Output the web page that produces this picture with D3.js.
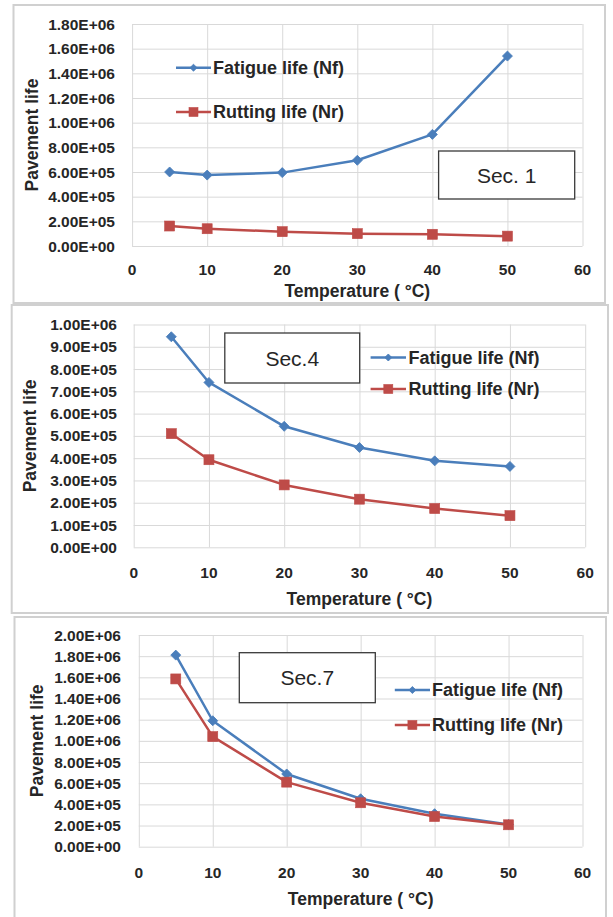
<!DOCTYPE html>
<html>
<head>
<meta charset="utf-8">
<script src="https://cdn.jsdelivr.net/npm/d3@7"></script>
<style>
  html, body { margin: 0; padding: 0; background: #ffffff; }
  svg { display: block; }
  text { font-family: "Liberation Sans", Arial, sans-serif; fill: #262626; }
</style>
</head>
<body>
<svg id="chart" width="613" height="917"></svg>
<script>
// ---------- data ----------
const temps = [5, 10, 20, 30, 40, 50];
const xTickValues = [0, 10, 20, 30, 40, 50, 60];
const seriesNames = ["Fatigue life (Nf)", "Rutting life (Nr)"];

const sec1Fatigue = [6.0e5, 5.75e5, 5.95e5, 6.95e5, 9.05e5, 1.54e6];
const sec1Rutting = [1.62e5, 1.40e5, 1.16e5, 1.0e5, 9.5e4, 8.0e4];
const sec1YTicks = [0, 2e5, 4e5, 6e5, 8e5, 1.0e6, 1.2e6, 1.4e6, 1.6e6, 1.8e6];

const sec4Fatigue = [9.45e5, 7.4e5, 5.43e5, 4.48e5, 3.88e5, 3.63e5];
const sec4Rutting = [5.1e5, 3.93e5, 2.8e5, 2.16e5, 1.74e5, 1.42e5];
const sec4YTicks = [0, 1e5, 2e5, 3e5, 4e5, 5e5, 6e5, 7e5, 8e5, 9e5, 1.0e6];

const sec7Fatigue = [1.81e6, 1.19e6, 6.87e5, 4.53e5, 3.12e5, 2.1e5];
const sec7Rutting = [1.585e6, 1.04e6, 6.1e5, 4.15e5, 2.85e5, 2.07e5];
const sec7YTicks = [0, 2e5, 4e5, 6e5, 8e5, 1.0e6, 1.2e6, 1.4e6, 1.6e6, 1.8e6, 2.0e6];

const sectionLabels = ["Sec. 1", "Sec.4", "Sec.7"];
const xTitle = "Temperature ( \u00B0C)";
const yTitle = "Pavement life";

// ---------- layout (positions only) ----------
const panels = [
  { fatigue: sec1Fatigue, rutting: sec1Rutting, yTicks: sec1YTicks, label: sectionLabels[0],
    border: [13.5, 5, 605, 303], plotX: [132.1, 582.5], plotY: [246, 24],
    yLabelRight: 115, xLabelY: 269.5, xTitleY: 290.5, yTitleX: 31.5,
    legendX: [176, 211], legendY: [67.7, 112], legendTextX: 213,
    box: [438.6, 151, 574.7, 199] },
  { fatigue: sec4Fatigue, rutting: sec4Rutting, yTicks: sec4YTicks, label: sectionLabels[1],
    border: [11.7, 305, 608, 613], plotX: [133.7, 585.2], plotY: [547.3, 324.5],
    yLabelRight: 117, xLabelY: 572, xTitleY: 598.5, yTitleX: 29.5,
    legendX: [370.6, 406], legendY: [357.5, 389], legendTextX: 408.5,
    box: [224.8, 333, 359.7, 383] },
  { fatigue: sec7Fatigue, rutting: sec7Rutting, yTicks: sec7YTicks, label: sectionLabels[2],
    border: [14.5, 617, 606, 930], plotX: [138.8, 582.5], plotY: [846.7, 635],
    yLabelRight: 121, xLabelY: 872, xTitleY: 898.5, yTitleX: 37,
    legendX: [394.8, 430], legendY: [690, 725], legendTextX: 432,
    box: [239.3, 652.7, 375.3, 702.7] }
];

const blue = "#4A7EBB";
const red = "#BE4B48";
const gridColor = "#d9d9d9";

function sci(v) {
  const [m, e] = v.toExponential(2).split("e");
  return m + "E" + e[0] + e.slice(1).padStart(2, "0");
}

const svg = d3.select("#chart");

const diamond = d3.symbol().type(d3.symbolDiamond2);
function drawMarker(g, type, x, y, size, color) {
  if (type === "diamond") {
    g.append("path")
      .attr("d", d3.symbol().type(d3.symbolSquare).size(size * size / 2)())
      .attr("transform", `translate(${x},${y}) rotate(45)`)
      .attr("fill", color).attr("stroke", color).attr("stroke-width", 0.8);
  } else {
    g.append("rect")
      .attr("x", x - size / 2).attr("y", y - size / 2)
      .attr("width", size).attr("height", size)
      .attr("fill", color).attr("stroke", color).attr("stroke-width", 0.6);
  }
}

panels.forEach(p => {
  const g = svg.append("g");
  const [bx0, by0, bx1, by1] = p.border;
  g.append("rect")
    .attr("x", bx0).attr("y", by0).attr("width", bx1 - bx0).attr("height", by1 - by0)
    .attr("fill", "#ffffff").attr("stroke", "#d0d0d0").attr("stroke-width", 2);

  const x = d3.scaleLinear().domain([0, 60]).range(p.plotX);
  const yMax = p.yTicks[p.yTicks.length - 1];
  const y = d3.scaleLinear().domain([0, yMax]).range(p.plotY);

  // gridlines
  const yAxis = d3.axisLeft(y).tickValues(p.yTicks).tickSize(-(p.plotX[1] - p.plotX[0])).tickFormat("");
  const ya = g.append("g").attr("transform", `translate(${p.plotX[0]},0)`).call(yAxis);
  ya.select(".domain").remove();
  ya.selectAll("line").attr("stroke", gridColor).attr("stroke-width", 1);

  const xAxis = d3.axisBottom(x).tickValues(xTickValues).tickSize(-(p.plotY[0] - p.plotY[1])).tickFormat("");
  const xa = g.append("g").attr("transform", `translate(0,${p.plotY[0]})`).call(xAxis);
  xa.select(".domain").remove();
  xa.selectAll("line").attr("stroke", gridColor).attr("stroke-width", 1);

  // tick labels
  g.selectAll(null).data(p.yTicks).enter().append("text")
    .attr("x", p.yLabelRight).attr("y", d => y(d))
    .attr("dy", "0.36em").attr("text-anchor", "end")
    .attr("font-size", 15.5).attr("font-weight", "bold")
    .text(d => sci(d));
  g.selectAll(null).data(xTickValues).enter().append("text")
    .attr("x", d => x(d)).attr("y", p.xLabelY)
    .attr("dy", "0.36em").attr("text-anchor", "middle")
    .attr("font-size", 15.5).attr("font-weight", "bold")
    .text(d => d);

  // titles
  g.append("text")
    .attr("x", (p.plotX[0] + p.plotX[1]) / 2).attr("y", p.xTitleY)
    .attr("dy", "0.36em").attr("text-anchor", "middle")
    .attr("font-size", 17.5).attr("font-weight", "bold")
    .text(xTitle);
  g.append("text")
    .attr("transform", `translate(${p.yTitleX},${(p.plotY[0] + p.plotY[1]) / 2}) rotate(-90)`)
    .attr("dy", "0.36em").attr("text-anchor", "middle")
    .attr("font-size", 17.5).attr("font-weight", "bold")
    .text(yTitle);

  // series
  const line = d3.line().x((d, i) => x(temps[i])).y(d => y(d));
  const series = [
    { vals: p.fatigue, color: blue, marker: "diamond", size: 10 },
    { vals: p.rutting, color: red, marker: "square", size: 10 }
  ];
  series.forEach(s => {
    g.append("path").datum(s.vals)
      .attr("d", line).attr("fill", "none")
      .attr("stroke", s.color).attr("stroke-width", 2.5).attr("stroke-linejoin", "round");
    s.vals.forEach((v, i) => drawMarker(g, s.marker, x(temps[i]), y(v), s.size, s.color));
  });

  // legend
  series.forEach((s, k) => {
    const ly = p.legendY[k];
    g.append("line")
      .attr("x1", p.legendX[0]).attr("x2", p.legendX[1]).attr("y1", ly).attr("y2", ly)
      .attr("stroke", s.color).attr("stroke-width", 2.5);
    drawMarker(g, s.marker, (p.legendX[0] + p.legendX[1]) / 2, ly, s.marker === "diamond" ? 7 : 9, s.color);
    g.append("text")
      .attr("x", p.legendTextX).attr("y", ly).attr("dy", "0.36em")
      .attr("font-size", 18).attr("font-weight", "bold")
      .text(seriesNames[k]);
  });

  // section box
  const [qx0, qy0, qx1, qy1] = p.box;
  g.append("rect")
    .attr("x", qx0).attr("y", qy0).attr("width", qx1 - qx0).attr("height", qy1 - qy0)
    .attr("fill", "#ffffff").attr("stroke", "#3a3a3a").attr("stroke-width", 1.3);
  g.append("text")
    .attr("x", (qx0 + qx1) / 2).attr("y", (qy0 + qy1) / 2).attr("dy", "0.36em")
    .attr("text-anchor", "middle").attr("font-size", 21)
    .text(p.label);
});
</script>
</body>
</html>
